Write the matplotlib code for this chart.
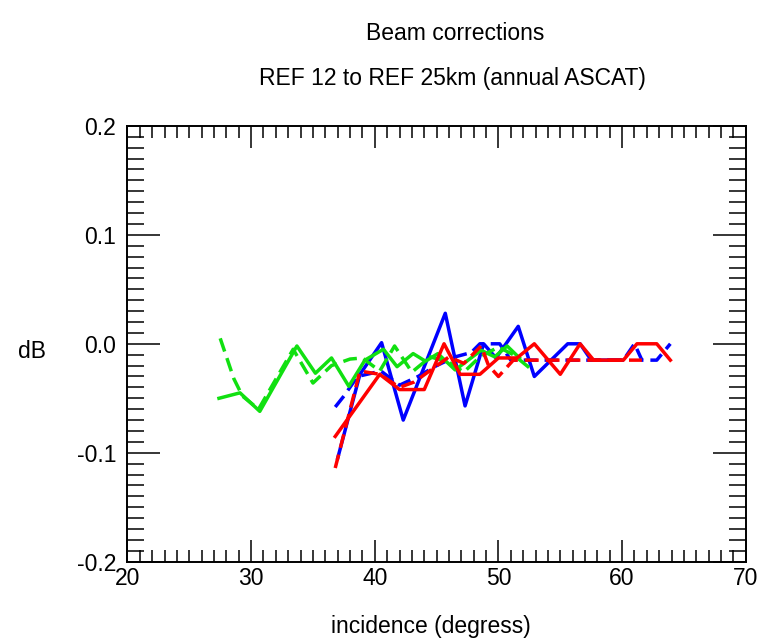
import matplotlib
matplotlib.use("Agg")
import matplotlib.pyplot as plt
from matplotlib.ticker import MultipleLocator

# incidence angle (deg) / correction (dB)
blue_solid_x = [37.0, 38.8, 40.55, 42.3, 45.7, 47.3, 48.8, 49.8, 51.6, 52.9, 55.6, 56.6, 57.5, 60.0]
blue_solid_y = [-0.105, -0.028, 0.001, -0.070, 0.028, -0.057, 0.0, -0.013, 0.016, -0.030, 0.0, 0.0, -0.015, -0.015]

blue_dash_x = [36.8, 37.5, 38.6, 40.5, 42.0, 43.5, 45.0, 46.5, 47.8, 48.5, 50.1, 51.0, 60.1, 61.0, 61.6, 62.8, 63.9]
blue_dash_y = [-0.058, -0.048, -0.030, -0.025, -0.038, -0.030, -0.020, -0.012, -0.008, 0.0, 0.0, -0.015, -0.015, 0.0, -0.015, -0.015, 0.0]

red_solid_x = [36.8, 40.4, 42.0, 44.0, 45.6, 46.9, 48.5, 50.0, 51.5, 52.9, 55.0, 56.6, 57.7, 60.1, 61.2, 62.8, 63.9]
red_solid_y = [-0.085, -0.028, -0.042, -0.042, 0.0, -0.028, -0.028, -0.013, -0.013, 0.0, -0.028, 0.0, -0.015, -0.015, 0.0, 0.0, -0.015]

red_dash_x = [36.8, 38.8, 40.4, 42.0, 43.2, 44.9, 46.0, 47.2, 48.6, 49.2, 50.0, 51.2, 61.6]
red_dash_y = [-0.114, -0.025, -0.028, -0.040, -0.035, -0.021, -0.012, -0.018, -0.002, -0.020, -0.030, -0.015, -0.015]

green_solid_x = [27.4, 29.1, 30.7, 33.7, 35.2, 36.5, 37.9, 39.2, 40.7, 41.8, 43.1, 44.1, 45.1, 46.5, 48.6, 49.7, 50.7, 51.7]
green_solid_y = [-0.050, -0.045, -0.062, -0.002, -0.027, -0.013, -0.039, -0.015, -0.005, -0.021, -0.009, -0.016, -0.009, -0.024, -0.006, -0.012, -0.002, -0.013]

green_dash_x = [27.5, 28.6, 29.3, 30.6, 33.4, 35.0, 36.5, 38.0, 39.0, 40.4, 41.6, 43.0, 44.5, 46.0, 47.2, 48.5, 50.0, 51.2, 52.5]
green_dash_y = [0.005, -0.032, -0.048, -0.060, -0.005, -0.036, -0.020, -0.014, -0.013, -0.025, -0.002, -0.026, -0.012, -0.017, -0.026, -0.012, -0.003, -0.010, -0.022]

BLUE = "#0000ff"
RED = "#ff0000"
GREEN = "#11e011"
LW = 2.5
DASH = (10, 5)

plt.rcParams.update({
    "font.family": ["Liberation Sans", "DejaVu Sans"],
    "font.size": 16.5,
    "lines.scale_dashes": False,
})

fig = plt.figure(figsize=(7.61, 6.42), dpi=100)
ax = fig.add_axes([0.1675, 0.125, 0.8125, 0.679])

ax.plot(blue_solid_x, blue_solid_y, color=BLUE, lw=LW)
ax.plot(blue_dash_x, blue_dash_y, color=BLUE, lw=LW, dashes=DASH)
ax.plot(green_solid_x, green_solid_y, color=GREEN, lw=LW)
ax.plot(green_dash_x, green_dash_y, color=GREEN, lw=LW, dashes=DASH)
ax.plot(red_solid_x, red_solid_y, color=RED, lw=LW)
ax.plot(red_dash_x, red_dash_y, color=RED, lw=LW, dashes=DASH)

ax.set_xlim(20, 70)
ax.set_ylim(-0.2, 0.2)
ax.xaxis.set_major_locator(MultipleLocator(10))
ax.xaxis.set_minor_locator(MultipleLocator(1))
ax.yaxis.set_major_locator(MultipleLocator(0.1))
ax.yaxis.set_minor_locator(MultipleLocator(0.01))
ax.yaxis.set_major_formatter(lambda v, _: f"{v:.1f}")

for s in ax.spines.values():
    s.set_linewidth(1.4)
ax.tick_params(which="both", direction="in", top=True, right=True, width=1.1, color="black")
ax.tick_params(axis="x", which="major", length=15.8, pad=4)
ax.tick_params(axis="x", which="minor", length=8.6)
ax.tick_params(axis="y", which="major", length=23.8, pad=8)
ax.tick_params(axis="y", which="minor", length=12.2)

fig.text(455 / 761, 1 - 34 / 642, "Beam corrections", ha="center", va="center")
fig.text(452 / 761, 1 - 79 / 642, "REF 12 to REF 25km (annual ASCAT)", ha="center", va="center")
fig.text(431 / 761, 1 - 627 / 642, "incidence (degress)", ha="center", va="center")
fig.text(32 / 761, 1 - 352 / 642, "dB", ha="center", va="center")

fig.savefig("out.png", dpi=100)
